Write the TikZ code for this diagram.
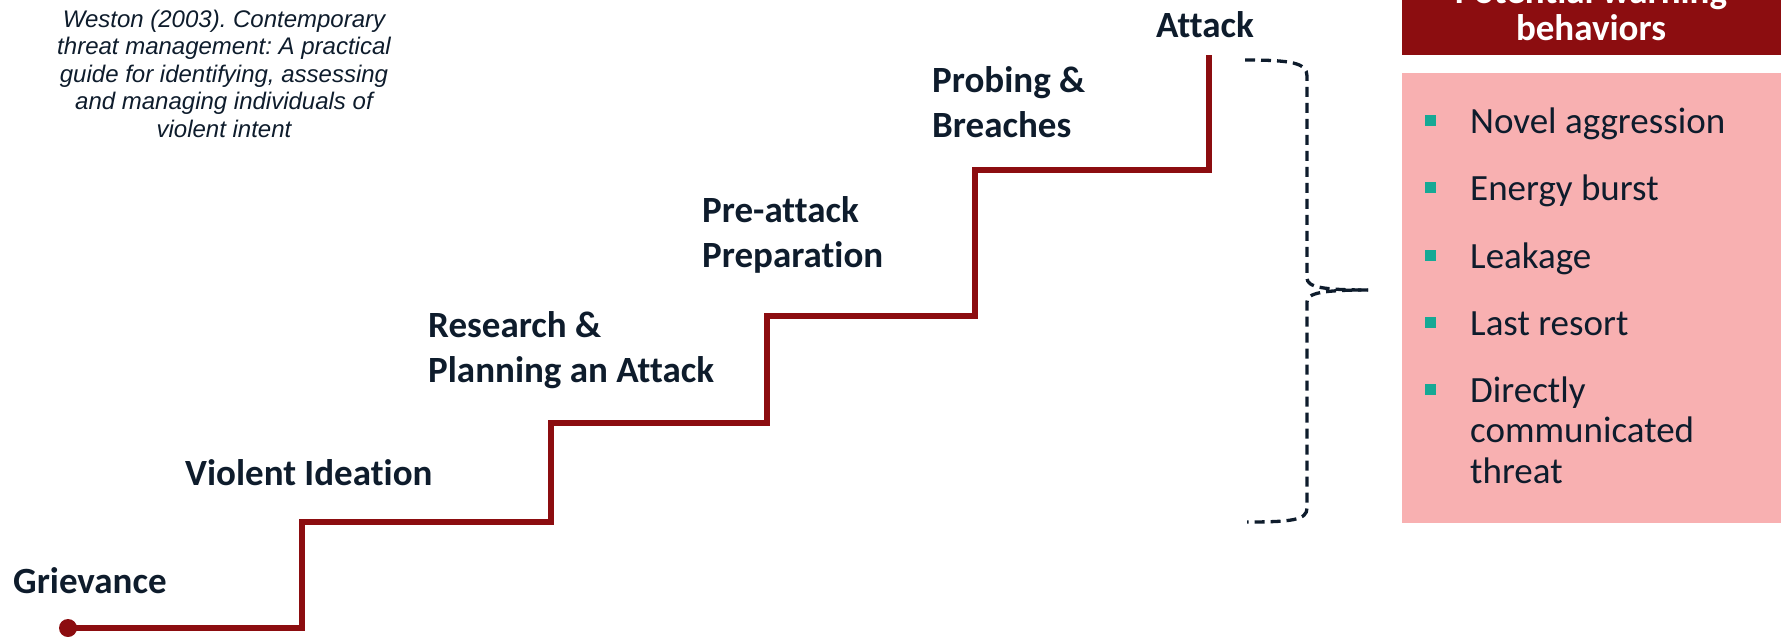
\documentclass[tikz,border=0pt]{standalone}
\usepackage{fontspec}
\setmainfont{Carlito}[Ligatures=NoCommon]
\newfontfamily\citefont{Liberation Sans}
\frenchspacing
\definecolor{ink}{HTML}{0E1C2C}
\definecolor{stairred}{HTML}{8C0D10}
\definecolor{listpink}{HTML}{F8B0B1}
\definecolor{bullet}{HTML}{16A995}
% multi-line nodes: the base anchor sits on the last line's baseline
\tikzset{
  stage/.style={inner sep=0pt, anchor=base west, align=left, text=ink,
    font=\bfseries\fontsize{37}{45}\selectfont},
  stair/.style={draw=stairred, line width=6pt, line join=miter},
  bracepath/.style={draw=ink, line width=3.3pt, dash pattern=on 10pt off 6pt},
  item/.style={inner sep=0pt, anchor=base west, align=left, text=ink,
    font=\fontsize{37}{40.5}\selectfont},
  bulletbox/.style={fill=bullet, minimum size=11pt, inner sep=0pt},
  cite/.style={inner sep=0pt, anchor=base, align=center, text=ink,
    font=\citefont\itshape\fontsize{24}{27.5}\selectfont}
}
\begin{document}
\begin{tikzpicture}[x=1pt,y=-1pt]
\useasboundingbox (0,0) rectangle (1781,637);
\clip (0,0) rectangle (1781,637);

% reference note
\node[cite] (cite) at (224,137) {Weston (2003). Contemporary\\threat management: A practical\\guide for identifying, assessing\\and managing individuals of\\violent intent};

% stage labels
\node[stage] (griev) at (13,593) {Grievance};
\node[stage] (ideation) at (185,485) {Violent Ideation};
\node[stage] (research) at (428,382) {Research \&\\Planning an Attack};
\node[stage] (prep) at (702,267) {Pre-attack\\Preparation};
\node[stage] (probe) at (932,137) {Probing \&\\Breaches};
\node[stage, anchor=base] (attack) at (1205,37) {Attack};

% staircase
\coordinate (s0) at (68,628);
\coordinate (s1) at (302,628);
\coordinate (s2) at (302,522);
\coordinate (s3) at (551,522);
\coordinate (s4) at (551,423);
\coordinate (s5) at (767,423);
\coordinate (s6) at (767,316);
\coordinate (s7) at (975,316);
\coordinate (s8) at (975,170);
\coordinate (s9) at (1209,170);
\coordinate (s10) at (1209,55);
\draw[stair] (s0) -- (s1) -- (s2) -- (s3) -- (s4) -- (s5) -- (s6) -- (s7) -- (s8) -- (s9) -- (s10);
\fill[stairred] (s0) circle (9pt);

% curly brace
\coordinate (bt) at (1245,60);
\coordinate (bb) at (1247,522);
\coordinate (tip) at (1368,290);
\draw[bracepath] (bt) .. controls (1292,60) and (1307,63) .. (1307,76)
  -- (1307,278) .. controls (1307,287) and (1322,290) .. (tip);
\draw[bracepath] (tip) .. controls (1322,290) and (1307,293) .. (1307,302)
  -- (1307,508) .. controls (1307,520) and (1292,522) .. (bb);

% warning behaviours panel
\node[fill=stairred, minimum width=379pt, minimum height=130pt, inner sep=0pt, anchor=south west] (titlebox) at (1402,55) {};
\node[inner sep=0pt, anchor=base, align=center, text=white,
  font=\bfseries\fontsize{37}{36}\selectfont] (title) at (1591,40) {Potential warning\\behaviors};
\node[fill=listpink, minimum width=379pt, minimum height=450pt, inner sep=0pt, anchor=north west] (listbox) at (1402,73) {};

\node[item] (i1) at (1470,133) {Novel aggression};
\node[item] (i2) at (1470,200) {Energy burst};
\node[item] (i3) at (1470,268) {Leakage};
\node[item] (i4) at (1470,335) {Last resort};
\node[item] (i5) at (1470,483) {Directly\\communicated\\threat};
\foreach \y [count=\k] in {133,200,268,335,402}
  \node[bulletbox] (b\k) at (1430,\y-13) {};
\end{tikzpicture}
\end{document}
